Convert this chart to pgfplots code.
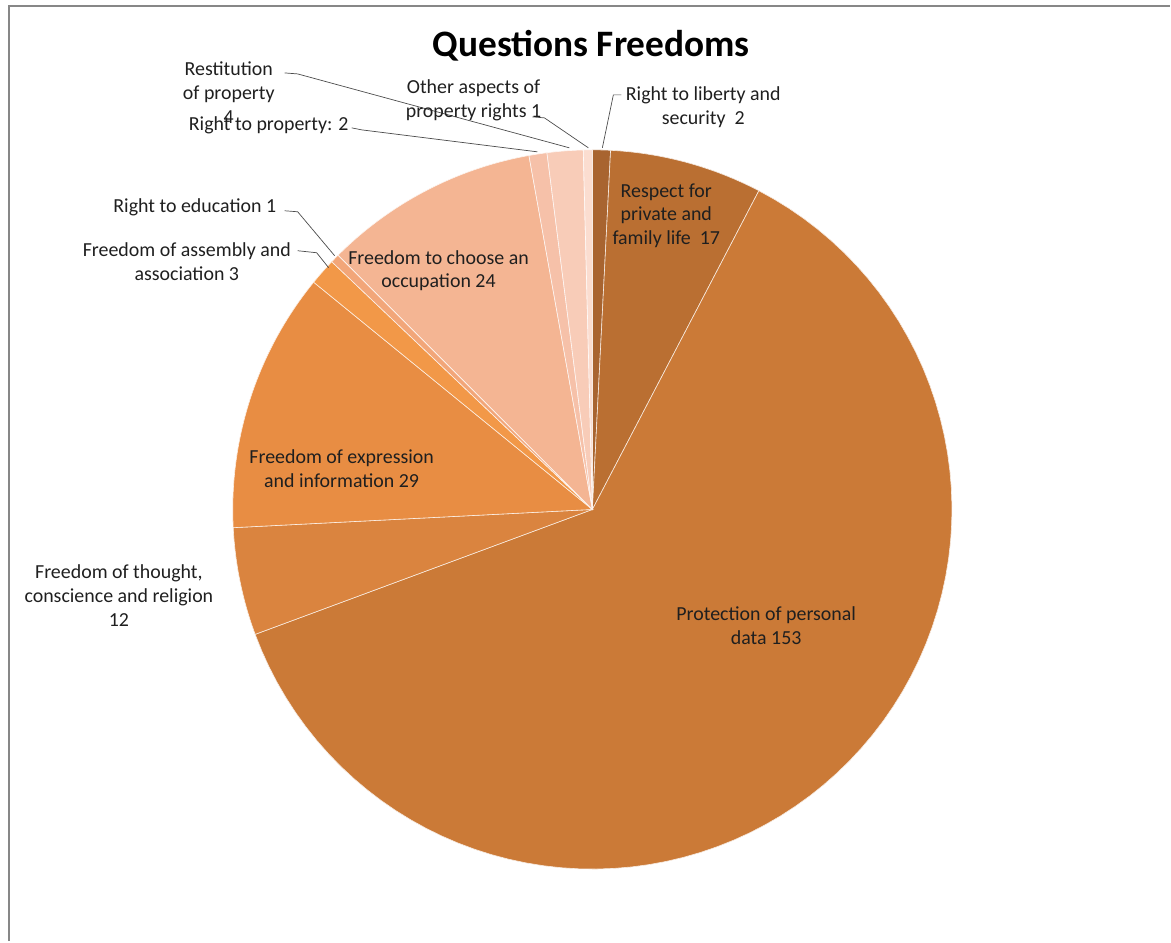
\documentclass[border=0pt]{standalone}
\usepackage{pgfplots}
\pgfplotsset{compat=1.18}
\usepackage{fontspec}
\setmainfont{Carlito}
\definecolor{cLib}{HTML}{A86430}
\definecolor{cRes}{HTML}{BA6F32}
\definecolor{cPer}{HTML}{CB7A37}
\definecolor{cTho}{HTML}{DA843F}
\definecolor{cExp}{HTML}{E88D43}
\definecolor{cAss}{HTML}{F29848}
\definecolor{cEdu}{HTML}{F2A679}
\definecolor{cOcc}{HTML}{F4B593}
\definecolor{cPro}{HTML}{F6C1A9}
\definecolor{cRst}{HTML}{F8CCB8}
\definecolor{cOth}{HTML}{FBDDD0}
% total of all questions
\def\tot{248}
% #1 = sum of the preceding values, #2 = value, #3 = colour
\newcommand{\slice}[3]{%
  \addplot[fill=#3, draw=white!85!#3, line width=0.6pt, domain={#1*360/\tot}:{(#1+#2)*360/\tot},
    samples=80, variable=\t] ({593+360*sin(\t)},{510-360*cos(\t)}) -- (593,510) -- cycle;
}
\begin{document}
\begin{tikzpicture}[lbl/.style={font=\fontsize{20}{24}\selectfont, align=center, text=black!88, inner sep=0pt}]
\begin{axis}[
  scale only axis, width=1171bp, height=942bp,
  xmin=0, xmax=1171, ymin=0, ymax=942, y dir=reverse,
  hide axis, clip=false,
]
% values: liberty 2, respect 17, personal data 153, thought 12, expression 29,
% assembly 3, education 1, occupation 24, property 2, restitution 4, other 1
\slice{0}{2}{cLib}
\slice{2}{17}{cRes}
\slice{19}{153}{cPer}
\slice{172}{12}{cTho}
\slice{184}{29}{cExp}
\slice{213}{3}{cAss}
\slice{216}{1}{cEdu}
\slice{217}{24}{cOcc}
\slice{241}{2}{cPro}
\slice{243}{4}{cRst}
\slice{247}{1}{cOth}

% page extent
\path (0,0) -- (1171,942);
% frame
\draw[color=black!47, line width=2.5bp] (9,942) -- (9,6) -- (1171,6);

% title
\node[font=\fontsize{37.5}{40}\selectfont\bfseries] at (592,46) {Questions Freedoms};

% leader lines
\begin{scope}[draw=black!70, line width=0.7bp]
\draw (622,95) -- (614,95) -- (603,148);
\draw (533,117) -- (545,118) -- (589,148);
\draw (285,73) -- (298,74) -- (570,148);
\draw (352,128) -- (362,130) -- (538,152);
\draw (285,211) -- (298,212) -- (335,256);
\draw (298,251) -- (317,253) -- (329,268);
\end{scope}

% labels
\node[lbl] at (704,107) {Right to liberty and\\security\ \ 2};
\node[lbl] at (667,216) {Respect for\\private and\\family life\ \ 17};
\node[lbl] at (767,626) {Protection of personal\\data 153};
\node[lbl] at (119,596) {Freedom of thought,\\conscience and religion\\12};
\node[lbl] at (342,469) {Freedom of expression\\and information 29};
\node[lbl] at (187,262) {Freedom of assembly and\\association 3};
\node[lbl] at (195,208) {Right to education 1};
\node[lbl] at (439,271) {Freedom to choose an\\occupation 24};
\node[lbl] at (269,125) {Right to property: 2};
\node[lbl] at (229,93) {Restitution\\of property\\4};
\node[lbl] at (474,100) {Other aspects of\\property rights 1};
\end{axis}
\end{tikzpicture}
\end{document}
